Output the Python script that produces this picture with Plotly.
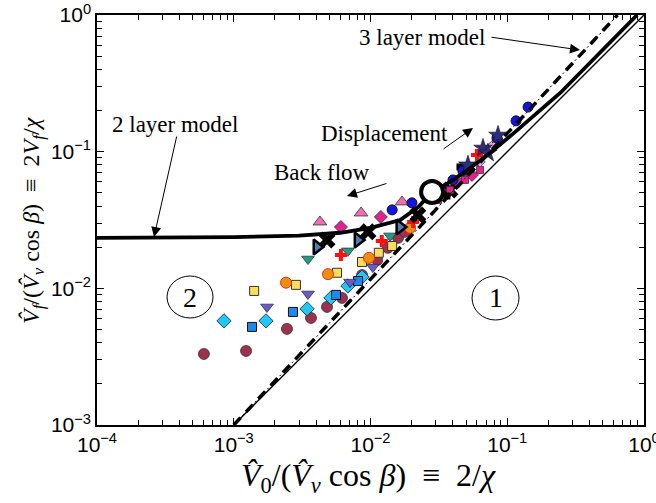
import plotly.graph_objects as go

# model curves
one_to_one_x = [1e-3, 1.0]
one_to_one_y = [1e-3, 1.0]

two_layer_x = [1e-4, 3e-4, 1e-3, 3e-3, 6e-3, 1e-2, 1.65e-2, 2.25e-2, 2.8e-2, 3.6e-2, 5e-2, 7.5e-2, 0.11, 0.245, 0.5, 0.89]
two_layer_y = [0.0234, 0.0234, 0.0237, 0.0243, 0.0255, 0.0277, 0.0316, 0.0395, 0.0507, 0.058, 0.072, 0.098, 0.135, 0.27, 0.555, 1.0]

three_layer_x = [1e-3, 1e-2, 1e-1, 0.64]
three_layer_y = [1.0e-3, 1.16e-2, 0.136, 1.0]

# experiments
maroon_x = [6.05e-4, 1.23e-3, 2.45e-3, 3.67e-3, 4.81e-3, 6.19e-3, 8.67e-3, 1.12e-2, 1.34e-2, 1.59e-2, 1.79e-2]
maroon_y = [3.31e-3, 3.48e-3, 5.05e-3, 6.07e-3, 7.31e-3, 8.51e-3, 1.25e-2, 1.61e-2, 1.98e-2, 2.34e-2, 2.59e-2]

cyan_x = [8.49e-4, 1.72e-3, 3.44e-3, 5.14e-3, 6.84e-3, 8.67e-3]
cyan_y = [5.78e-3, 5.78e-3, 7.07e-3, 8.51e-3, 1.04e-2, 1.21e-2]

bluesq_x = [1.36e-3, 2.71e-3, 5.6e-3, 8.11e-3]
bluesq_y = [5.22e-3, 6.72e-3, 8.95e-3, 1.13e-2]

yellow_x = [1.41e-3, 2.85e-3, 5.69e-3, 8.67e-3, 1.15e-2, 1.44e-2]
yellow_y = [9.57e-3, 1.06e-2, 1.30e-2, 1.56e-2, 1.82e-2, 2.04e-2]

orange_x = [2.41e-3, 4.89e-3, 9.75e-3, 1.95e-2]
orange_y = [1.10e-2, 1.27e-2, 1.67e-2, 2.77e-2]

purple_x = [1.75e-3, 3.49e-3, 7.08e-3, 1.04e-2]
purple_y = [7.31e-3, 9.1e-3, 1.11e-2, 1.43e-2]

teal_x = [3.49e-3, 6.84e-3, 1.39e-2]
teal_y = [1.64e-2, 1.88e-2, 2.42e-2]

redplus_x = [6.08e-3, 1.21e-2, 2.05e-2, 6.01e-2]
redplus_y = [1.75e-2, 2.22e-2, 3.06e-2, 9.46e-2]

tri_right_x = [4.06e-3, 8.11e-3, 1.64e-2]
tri_right_y = [2.01e-2, 2.26e-2, 2.81e-2]

black_x_x = [4.81e-3, 9.59e-3, 2.22e-2, 3.81e-2]
black_x_y = [2.26e-2, 2.59e-2, 3.44e-2, 5.25e-2]

pink_x = [4.27e-3, 8.53e-3, 1.70e-2]
pink_y = [3.06e-2, 3.56e-2, 4.29e-2]

magenta_x = [6.08e-3, 1.19e-2, 4.36e-2, 5.52e-2]
magenta_y = [2.81e-2, 3.33e-2, 6.0e-2, 6.76e-2]

magsq_x = [3.12e-2, 3.81e-2, 4.91e-2, 6.32e-2]
magsq_y = [4.43e-2, 5.25e-2, 6.21e-2, 7.35e-2]

plum_x = [5.34e-2, 6.32e-2, 7.87e-2]
plum_y = [7.35e-2, 8.41e-2, 0.112]

blacksq_x = [3.62e-2, 4.51e-2]
blacksq_y = [4.74e-2, 7.73e-2]

bluec_x = [1.44e-2, 2.01e-2, 4.01e-2, 4.74e-2, 8.41e-2, 0.116, 0.142]
bluec_y = [3.75e-2, 4.22e-2, 6.21e-2, 7.23e-2, 0.126, 0.168, 0.212]

star_x = [5.16e-2, 6.65e-2, 7.22e-2, 8.56e-2]
star_y = [7.99e-2, 0.106, 9.78e-2, 0.132]

open_x = [2.82e-2]
open_y = [5.07e-2]

x_tickvals = [1e-4, 1e-3, 1e-2, 1e-1, 1]
x_ticktext = ["10<sup>−4</sup>", "10<sup>−3</sup>", "10<sup>−2</sup>", "10<sup>−1</sup>", "10<sup>0</sup>"]
y_tickvals = [1e-3, 1e-2, 1e-1, 1]
y_ticktext = ["10<sup>−3</sup>", "10<sup>−2</sup>", "10<sup>−1</sup>", "10<sup>0</sup>"]
# minor ticks 2..9 in every decade
x_minor = [m * d for d in x_tickvals[:-1] for m in range(2, 10)]
y_minor = [m * d for d in y_tickvals[:-1] for m in range(2, 10)]

SERIF = "Liberation Serif, DejaVu Serif, serif"
SANS = "Liberation Sans, Arial, sans-serif"
EDGE = dict(color="#333333", width=0.8)

fig = go.Figure()


def add_markers(x, y, symbol, color, size, line=EDGE):
    fig.add_trace(go.Scatter(
        x=x, y=y, mode="markers",
        marker=dict(symbol=symbol, color=color, size=size, line=line),
        showlegend=False, hoverinfo="skip"
    ))


add_markers(maroon_x, maroon_y, "circle", "#9E3050", 11)
add_markers(cyan_x, cyan_y, "diamond", "#22C8F2", 11, dict(color="#102040", width=0.8))
add_markers(bluesq_x, bluesq_y, "square", "#1E88F0", 9, dict(color="#111111", width=1))
add_markers(yellow_x, yellow_y, "square", "#FFDC5A", 9, dict(color="#333333", width=1))
add_markers(orange_x, orange_y, "circle", "#E8920C", 11, dict(color="#FF2020", width=1))
add_markers(purple_x, purple_y, "triangle-down", "#6A5CCB", 11)
add_markers(teal_x, teal_y, "triangle-down", "#1E9E8A", 11)
add_markers(redplus_x, redplus_y, "cross", "#FF1010", 10, dict(color="#FF1010", width=0))
add_markers(tri_right_x, tri_right_y, "triangle-right", "#4C80B4", 13, dict(color="black", width=2.5))
add_markers(black_x_x, black_x_y, "x", "black", 15, dict(color="black", width=0))
add_markers(pink_x, pink_y, "triangle-up", "#F06DB4", 12)
add_markers(magenta_x, magenta_y, "diamond", "#E2208F", 10)
add_markers(magsq_x, magsq_y, "square", "#E8208C", 7)
add_markers(plum_x, plum_y, "diamond", "#F2A6E6", 8)
add_markers(blacksq_x, blacksq_y, "square", "black", 7, dict(color="black", width=0))
add_markers(bluec_x, bluec_y, "circle", "#1414E6", 10, dict(color="#111111", width=1))
add_markers(star_x, star_y, "star", "#2E2C7C", 14, dict(color="#111111", width=0.6))

fig.add_trace(go.Scatter(
    x=one_to_one_x, y=one_to_one_y, mode="lines",
    line=dict(color="black", width=1.4), showlegend=False, hoverinfo="skip"
))
fig.add_trace(go.Scatter(
    x=three_layer_x, y=three_layer_y, mode="lines",
    line=dict(color="black", width=3.5, dash="10px,8px"), showlegend=False, hoverinfo="skip"
))
fig.add_trace(go.Scatter(
    x=three_layer_x, y=three_layer_y, mode="lines",
    line=dict(color="black", width=1, dash="10px,3px,2px,3px"), showlegend=False, hoverinfo="skip"
))
fig.add_trace(go.Scatter(
    x=two_layer_x, y=two_layer_y, mode="lines",
    line=dict(color="black", width=3.8), showlegend=False, hoverinfo="skip"
))
add_markers(open_x, open_y, "circle", "white", 22, dict(color="black", width=4))

# invisible trace that keeps the minor-tick axes drawn
fig.add_trace(go.Scatter(x=[1e-2], y=[1e-2], xaxis="x2", yaxis="y2", mode="markers",
                         marker=dict(opacity=0), showlegend=False, hoverinfo="skip"))

axis_common = dict(
    type="log", showgrid=False, zeroline=False, automargin=False,
    showline=True, linecolor="black", linewidth=1.5, mirror="allticks",
    ticks="inside", ticklen=7, tickwidth=1, tickcolor="black",
    tickfont=dict(family=SANS, size=21, color="black"),
    tickmode="array", ticklabeloverflow="allow",
)
minor_common = dict(
    type="log", showgrid=False, zeroline=False, automargin=False,
    showline=True, linecolor="black", linewidth=1.5, mirror="allticks",
    ticks="inside", ticklen=5, tickwidth=1, tickcolor="black",
    showticklabels=False, tickmode="array",
)


def note(text, x, y, font, **kw):
    return dict(text=text, x=x, y=y, xref="paper", yref="paper", showarrow=False,
                xanchor="center", yanchor="middle", font=font, **kw)


annotations = [
    note("<i>V̂</i><sub>0</sub>/(<i>V̂</i><sub><i>ν</i></sub> cos <i>β</i>)  ≡  2/<i>χ</i>",
         0.497, -0.129, dict(family=SERIF, size=32, color="black")),
    note("<i>V̂</i><sub><i>f</i></sub>/(<i>V̂</i><sub><i>ν</i></sub> cos <i>β</i>)  ≡  2<i>V</i><sub><i>f</i></sub>/<i>χ</i>",
         -0.117, 0.5, dict(family=SERIF, size=24, color="black"), textangle=-90),
]

label_font = dict(family=SERIF, size=23, color="black")
texts = [
    ("2 layer model", 0.1426, 0.734),
    ("Back flow", 0.4113, 0.617),
    ("Displacement", 0.5265, 0.712),
    ("3 layer model", 0.594, 0.946),
]
for t, x, y in texts:
    annotations.append(note(t, x, y, label_font))

# arrows: head in paper coords, tail as pixel offsets
arrows = [
    (0.1042, 0.4585, 23, -102),
    (0.457, 0.5585, 41, -13),
    (0.6874, 0.7244, -31, 22),
    (0.883, 0.9146, -90, -13),
]
for x, y, ax, ay in arrows:
    annotations.append(dict(
        text="", x=x, y=y, xref="paper", yref="paper", ax=ax, ay=ay,
        showarrow=True, arrowhead=2, arrowsize=2, arrowwidth=1, arrowcolor="black", standoff=0
    ))
for t, x, y in [("2", 0.170, 0.312), ("1", 0.7294, 0.3098)]:
    annotations.append(note(t, x, y, dict(family=SERIF, size=28, color="black")))

shapes = [
    dict(type="circle", xref="paper", yref="paper", x0=0.128, x1=0.2121, y0=0.261, y1=0.3634,
         line=dict(color="black", width=1)),
    dict(type="circle", xref="paper", yref="paper", x0=0.6856, x1=0.7715, y0=0.2561, y1=0.3634,
         line=dict(color="black", width=1)),
]

fig.update_layout(
    width=656, height=503,
    margin=dict(l=97, r=12, t=15, b=78),
    plot_bgcolor="white", paper_bgcolor="white",
    xaxis=dict(range=[-4, 0], tickvals=x_tickvals, ticktext=x_ticktext, **axis_common),
    yaxis=dict(range=[-3, 0], tickvals=y_tickvals, ticktext=y_ticktext, **axis_common),
    xaxis2=dict(range=[-4, 0], tickvals=x_minor, overlaying="x", anchor="y2", side="bottom",
                **minor_common),
    yaxis2=dict(range=[-3, 0], tickvals=y_minor, overlaying="y", anchor="x2", side="left",
                **minor_common),
    annotations=annotations, shapes=shapes,
    showlegend=False
)

# drop the default page margin so the figure sits at the window corner
fig.write_html("out.html", config={"displayModeBar": False},
               post_script="document.body.style.margin='0';")
